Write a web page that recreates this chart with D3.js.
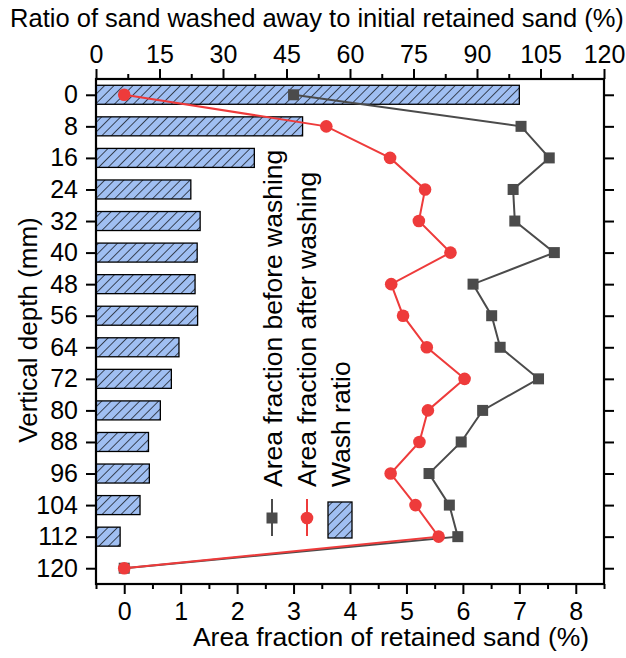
<!DOCTYPE html>
<html>
<head>
<meta charset="utf-8">
<script src="https://cdn.jsdelivr.net/npm/d3@7"></script>
<style>
  body { margin: 0; background: #fff; }
  text { font-family: Arial, "Liberation Sans", sans-serif; fill: #000; }
</style>
</head>
<body>
<svg id="chart" width="626" height="658"></svg>
<script>
// ---- data ----
const depths = [0, 8, 16, 24, 32, 40, 48, 56, 64, 72, 80, 88, 96, 104, 112, 120];
const washRatio = [100, 48.8, 37.4, 22.4, 24.6, 23.9, 23.4, 24.0, 19.6, 17.8, 15.2, 12.4, 12.6, 10.4, 5.7, 0];
const beforeWashing = [3.0, 7.03, 7.53, 6.89, 6.92, 7.62, 6.18, 6.51, 6.66, 7.34, 6.35, 5.97, 5.40, 5.76, 5.91, 0];
const afterWashing = [0, 3.58, 4.71, 5.33, 5.22, 5.78, 4.73, 4.94, 5.36, 6.03, 5.38, 5.23, 4.72, 5.16, 5.57, 0];
const bottomTicks = [0, 1, 2, 3, 4, 5, 6, 7, 8];
const topTicks = [0, 15, 30, 45, 60, 75, 90, 105, 120];
const legendLabels = ["Area fraction before washing", "Area fraction after washing", "Wash ratio"];

// ---- layout ----
const L = 96, R = 604, T = 79, B = 584;
const svg = d3.select("#chart");
const gray = "#4b4b4b", red = "#ee3b3b", blue = "#a0bff2";

const y = d3.scalePoint().domain(depths).range([T, B]).padding(0.5);
const xB = d3.scaleLinear().domain([-0.5, 8.5]).range([L, R]);
const xT = d3.scaleLinear().domain([0, 120]).range([L, R]);
const barH = 19;

// hatch pattern
const defs = svg.append("defs");
const pat = defs.append("pattern").attr("id", "hatch").attr("patternUnits", "userSpaceOnUse")
  .attr("width", 6.7).attr("height", 6.7).attr("patternTransform", "rotate(45)");
pat.append("rect").attr("width", 6.7).attr("height", 6.7).attr("fill", blue);
pat.append("line").attr("x1", 0).attr("y1", 0).attr("x2", 0).attr("y2", 6.7)
  .attr("stroke", "#000").attr("stroke-width", 1.3);

// bars
svg.append("g").selectAll("rect").data(depths.map((d, i) => ({d, v: washRatio[i]})).filter(o => o.v > 0))
  .join("rect")
  .attr("x", xT(0)).attr("y", o => y(o.d) - barH / 2)
  .attr("width", o => xT(o.v) - xT(0)).attr("height", barH)
  .attr("fill", "url(#hatch)").attr("stroke", "#000").attr("stroke-width", 1.3);

// lines
const lineB = d3.line().x(d => xB(d[1])).y(d => y(d[0]));
const ptsB = depths.map((d, i) => [d, beforeWashing[i]]);
const ptsA = depths.map((d, i) => [d, afterWashing[i]]);
svg.append("path").attr("d", lineB(ptsB)).attr("fill", "none").attr("stroke", gray).attr("stroke-width", 2);
svg.append("g").selectAll("rect").data(ptsB).join("rect")
  .attr("x", d => xB(d[1]) - 5.5).attr("y", d => y(d[0]) - 5.5)
  .attr("width", 11).attr("height", 11).attr("fill", gray);
svg.append("path").attr("d", lineB(ptsA)).attr("fill", "none").attr("stroke", red).attr("stroke-width", 2);
svg.append("g").selectAll("circle").data(ptsA).join("circle")
  .attr("cx", d => xB(d[1])).attr("cy", d => y(d[0])).attr("r", 6.3).attr("fill", red);

// axes
const fs = 25;
function styleAxis(g) {
  g.select(".domain").remove();
  g.selectAll("line").attr("stroke", "#000").attr("stroke-width", 2);
  g.selectAll("text").style("font-size", fs + "px").style("font-family", "Arial, 'Liberation Sans', sans-serif");
}
// bottom
const bMinor = d3.range(-0.5, 8.51, 0.5).filter(v => !bottomTicks.includes(v));
svg.append("g").attr("transform", `translate(0,${B})`)
  .call(d3.axisBottom(xB).tickValues(bMinor).tickSize(5).tickFormat(""))
  .call(styleAxis);
svg.append("g").attr("transform", `translate(0,${B})`)
  .call(d3.axisBottom(xB).tickValues(bottomTicks).tickSize(10).tickPadding(8).tickFormat(d3.format("d")))
  .call(styleAxis);
// top
const tMinor = d3.range(7.5, 120, 15);
svg.append("g").attr("transform", `translate(0,${T})`)
  .call(d3.axisTop(xT).tickValues(tMinor).tickSize(5).tickFormat(""))
  .call(styleAxis);
svg.append("g").attr("transform", `translate(0,${T})`)
  .call(d3.axisTop(xT).tickValues(topTicks).tickSize(10).tickPadding(6).tickFormat(d3.format("d")))
  .call(styleAxis);
// left
svg.append("g").attr("transform", `translate(${L},0)`)
  .call(d3.axisLeft(y).tickSize(10).tickPadding(8))
  .call(styleAxis);
// right
svg.append("g").attr("transform", `translate(${R},0)`)
  .call(d3.axisRight(y).tickSize(10).tickFormat(""))
  .call(styleAxis);

// frame
svg.append("rect").attr("x", L).attr("y", T).attr("width", R - L).attr("height", B - T)
  .attr("fill", "none").attr("stroke", "#000").attr("stroke-width", 2.2);

// titles
svg.append("text").attr("x", 317).attr("y", 27).attr("text-anchor", "middle")
  .style("font-size", "25.5px").text("Ratio of sand washed away to initial retained sand (%)");
svg.append("text").attr("x", 391).attr("y", 646).attr("text-anchor", "middle")
  .style("font-size", "26.5px").text("Area fraction of retained sand (%)");
svg.append("text").attr("transform", "translate(37,330) rotate(-90)").attr("text-anchor", "middle")
  .style("font-size", "26px").text("Vertical depth (mm)");

// legend
const lg = svg.append("g");
const lx = [272, 307, 340];
const symY = 518;
lg.append("line").attr("x1", lx[0]).attr("x2", lx[0]).attr("y1", 499).attr("y2", 536).attr("stroke", gray).attr("stroke-width", 2);
lg.append("rect").attr("x", lx[0] - 5.5).attr("y", symY - 5.5).attr("width", 11).attr("height", 11).attr("fill", gray);
lg.append("line").attr("x1", lx[1]).attr("x2", lx[1]).attr("y1", 499).attr("y2", 536).attr("stroke", red).attr("stroke-width", 2);
lg.append("circle").attr("cx", lx[1]).attr("cy", symY).attr("r", 6.3).attr("fill", red);
lg.append("rect").attr("x", lx[2] - 12).attr("y", 502).attr("width", 24).attr("height", 36)
  .attr("fill", "url(#hatch)").attr("stroke", "#000").attr("stroke-width", 1.3);
const baseX = [282, 316, 350];
legendLabels.forEach((t, i) => {
  lg.append("text").attr("transform", `translate(${baseX[i]},487) rotate(-90)`)
    .style("font-size", "26.5px").text(t);
});
</script>
</body>
</html>
